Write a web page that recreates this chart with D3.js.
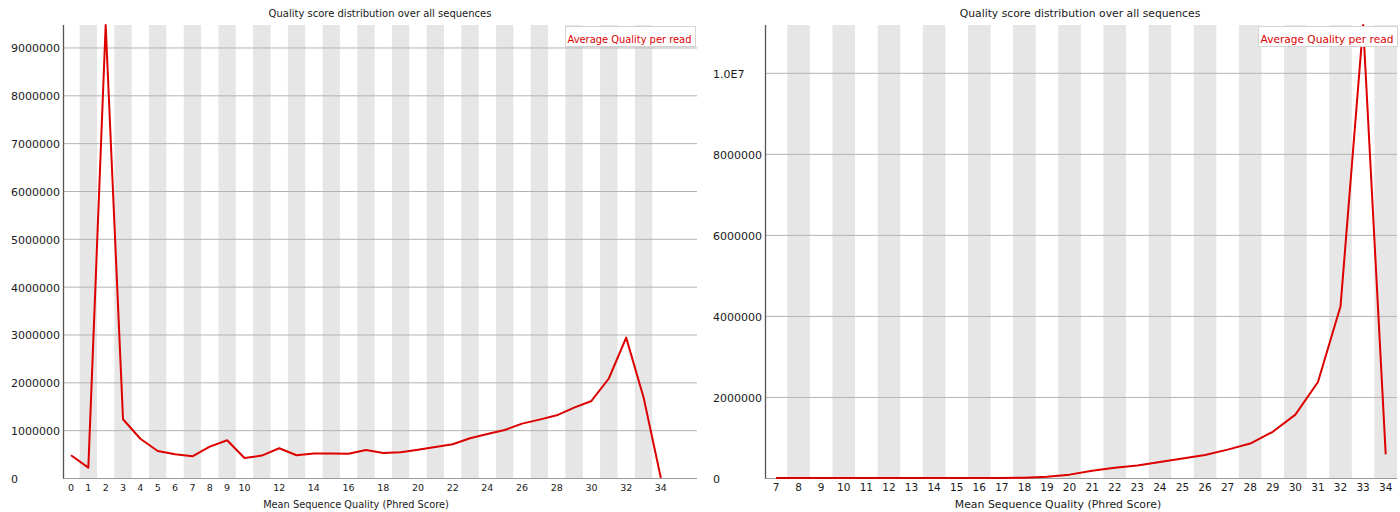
<!DOCTYPE html>
<html>
<head>
<meta charset="utf-8">
<script src="https://cdn.jsdelivr.net/npm/d3@7"></script>
<style>
  html, body { margin: 0; padding: 0; background: #fff; }
  svg { display: block; }
  text { font-family: "DejaVu Sans", sans-serif; fill: #1a1a1a; }
</style>
</head>
<body>
<svg id="chart" width="1400" height="512"></svg>
<script>
// Per-read mean quality histograms for two runs (counts of reads per Phred score).
const titleText = "Quality score distribution over all sequences";
const xTitleText = "Mean Sequence Quality (Phred Score)";
const legendText = "Average Quality per read";

// Run A: scores 0..34
const scoresA = d3.range(0, 35);
const countsA = [
  475000, 217000, 9470000, 1228000, 820000, 565000, 495000, 454000, 656000, 788000,
  418000, 468000, 621000, 475000, 510000, 510000, 505000, 585000, 523000, 537000,
  590000, 650000, 705000, 830000, 920000, 1004000, 1137000, 1220000, 1310000, 1470000,
  1610000, 2080000, 2935000, 1690000, 0
];
const xTickLabelsA = [0,1,2,3,4,5,6,7,8,9,10,12,14,16,18,20,22,24,26,28,30,32,34];
const yTickValuesA = [0,1000000,2000000,3000000,4000000,5000000,6000000,7000000,8000000,9000000];
const yTickLabelsA = ["0","1000000","2000000","3000000","4000000","5000000","6000000","7000000","8000000","9000000"];
const yMaxA = 9470000;

// Run B: scores 7..34
const scoresB = d3.range(7, 35);
const countsB = [
  0, 0, 0, 0, 0, 0, 0, 0, 0, 0, 0, 5000, 30000,
  83000, 180000, 255000, 310000, 395000, 480000, 570000, 700000, 850000, 1140000,
  1565000, 2370000, 4240000, 11180000, 585000
];
const xTickLabelsB = d3.range(7, 35);
const yTickValuesB = [0,2000000,4000000,6000000,8000000,10000000];
const yTickLabelsB = ["0","2000000","4000000","6000000","8000000","1.0E7"];
const yMaxB = 11180000;

const svg = d3.select("#chart");

function drawPanel(cfg) {
  const g = svg.append("g");
  const x = d3.scaleBand().domain(cfg.scores).range([cfg.bandStart, cfg.bandEnd]).padding(0);
  const y = d3.scaleLinear().domain([0, cfg.yMax]).range([cfg.bottom, cfg.top]);

  // alternating background stripes on odd bands
  g.append("g").selectAll("rect")
    .data(cfg.scores.filter((d, i) => i % 2 === 1))
    .join("rect")
    .attr("x", d => x(d))
    .attr("y", cfg.top)
    .attr("width", x.bandwidth())
    .attr("height", cfg.bottom - cfg.top)
    .attr("fill", "#e6e6e6");

  // horizontal gridlines
  g.append("g").selectAll("line")
    .data(cfg.yTicks)
    .join("line")
    .attr("x1", cfg.left).attr("x2", cfg.right)
    .attr("y1", d => y(d) + 0.5).attr("y2", d => y(d) + 0.5)
    .attr("stroke", d => d === 0 ? "#9a9a9a" : "#b4b4b4")
    .attr("stroke-width", 1);

  // y axis line
  g.append("line")
    .attr("x1", cfg.left + 0.5).attr("x2", cfg.left + 0.5)
    .attr("y1", cfg.top).attr("y2", cfg.bottom + 0.5)
    .attr("stroke", "#555").attr("stroke-width", 1.3);

  // y tick labels, left aligned
  g.append("g").selectAll("text")
    .data(cfg.yTicks)
    .join("text")
    .attr("x", cfg.yLabelX)
    .attr("y", d => y(d) + 5)
    .attr("font-size", 11)
    .text((d, i) => cfg.yLabels[i]);

  // x tick labels
  g.append("g").selectAll("text")
    .data(cfg.xLabels)
    .join("text")
    .attr("x", d => x(d) + x.bandwidth() / 2)
    .attr("y", 491)
    .attr("text-anchor", "middle")
    .attr("font-size", cfg.xTickSize)
    .text(d => d);

  // series line
  const line = d3.line()
    .x((d, i) => x(cfg.scores[i]) + x.bandwidth() / 2)
    .y(d => y(d));
  g.append("path")
    .datum(cfg.counts)
    .attr("d", line)
    .attr("fill", "none")
    .attr("stroke", "#dc0000")
    .attr("stroke-width", 2)
    .attr("stroke-linejoin", "round");

  // chart title
  g.append("text")
    .attr("x", cfg.titleX).attr("y", 17)
    .attr("text-anchor", "middle")
    .attr("font-size", cfg.titleSize)
    .text(titleText);

  // x axis title
  g.append("text")
    .attr("x", cfg.xTitleX).attr("y", 508)
    .attr("text-anchor", "middle")
    .attr("font-size", cfg.xTitleSize)
    .text(xTitleText);

  // legend
  const lg = g.append("g");
  lg.append("rect")
    .attr("x", cfg.legX + 0.5).attr("y", 26.5)
    .attr("width", cfg.legW).attr("height", 20)
    .attr("fill", "#fff").attr("stroke", "#d4d4d4");
  lg.append("text")
    .attr("x", cfg.legX + 2.5).attr("y", 43)
    .attr("font-size", cfg.legSize)
    .style("fill", "#dc0000")
    .text(legendText);
}

drawPanel({
  scores: scoresA, counts: countsA, xLabels: xTickLabelsA,
  yTicks: yTickValuesA, yLabels: yTickLabelsA, yMax: yMaxA,
  left: 63, right: 697, top: 25, bottom: 478,
  bandStart: 62.3, bandEnd: 62.3 + 35 * 17.35,
  yLabelX: 11, xTickSize: 9.5,
  titleX: 380, titleSize: 10, xTitleX: 356, xTitleSize: 9.8,
  legX: 565, legW: 130, legSize: 9.9
});

drawPanel({
  scores: scoresB, counts: countsB, xLabels: xTickLabelsB,
  yTicks: yTickValuesB, yLabels: yTickLabelsB, yMax: yMaxB,
  left: 765, right: 1397, top: 25, bottom: 478,
  bandStart: 764.7, bandEnd: 1397,
  yLabelX: 713, xTickSize: 10.5,
  titleX: 1080, titleSize: 10.8, xTitleX: 1058, xTitleSize: 10.9,
  legX: 1258, legW: 139, legSize: 10.6
});
</script>
</body>
</html>
